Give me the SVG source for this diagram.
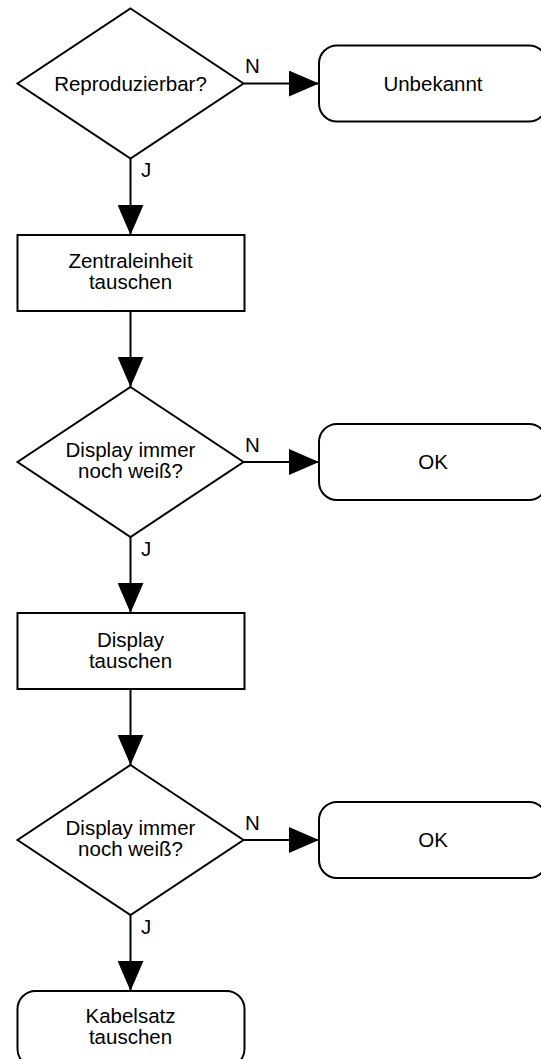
<svg xmlns="http://www.w3.org/2000/svg" width="541" height="1059" viewBox="0 0 541 1059">
<style>
.shape{fill:#fff;stroke:#000;stroke-width:2}
.line{fill:none;stroke:#000;stroke-width:2}
text{font-family:"Liberation Sans",Arial,Helvetica,sans-serif;font-size:20.5px;fill:#000}
.c{text-anchor:middle}
</style>
<defs>
<marker id="ah" markerUnits="userSpaceOnUse" markerWidth="30" markerHeight="26" viewBox="0 0 29 25" refX="29" refY="12.5" orient="auto">
<path d="M0,0 L29,12.5 L0,25 Z" fill="#000"/>
</marker>
</defs>
<rect width="541" height="1059" fill="#fff"/>
<g id="connectors">
<line class="line" x1="243.5" y1="83.5" x2="319" y2="83.5" marker-end="url(#ah)"/>
<line class="line" x1="130.5" y1="158.5" x2="130.5" y2="235" marker-end="url(#ah)"/>
<line class="line" x1="130.5" y1="311" x2="130.5" y2="387" marker-end="url(#ah)"/>
<line class="line" x1="243.5" y1="462" x2="319" y2="462" marker-end="url(#ah)"/>
<line class="line" x1="130.5" y1="537" x2="130.5" y2="613" marker-end="url(#ah)"/>
<line class="line" x1="130.5" y1="689" x2="130.5" y2="765" marker-end="url(#ah)"/>
<line class="line" x1="243.5" y1="840" x2="319" y2="840" marker-end="url(#ah)"/>
<line class="line" x1="130.5" y1="915" x2="130.5" y2="991" marker-end="url(#ah)"/>
<text x="245" y="73">N</text>
<text x="141" y="177">J</text>
<text x="245" y="452">N</text>
<text x="141" y="556">J</text>
<text x="245" y="830">N</text>
<text x="141" y="934">J</text>
</g>
<g id="d1">
<polygon class="shape" points="130.5,8.5 243.5,83.5 130.5,158.5 17.5,83.5"/>
<text class="c" x="130.5" y="90.5">Reproduzierbar?</text>
</g>
<g id="unbekannt">
<rect class="shape" x="319" y="45.5" width="228" height="76" rx="18"/>
<text class="c" x="433" y="90.5">Unbekannt</text>
</g>
<g id="r1">
<rect class="shape" x="17.5" y="235" width="227" height="76"/>
<text class="c" x="130.5" y="268">Zentraleinheit</text>
<text class="c" x="130.5" y="289">tauschen</text>
</g>
<g id="d2">
<polygon class="shape" points="130.5,387 243.5,462 130.5,537 17.5,462"/>
<text class="c" x="130.5" y="456.5">Display immer</text>
<text class="c" x="130.5" y="477.5">noch weiß?</text>
</g>
<g id="ok1">
<rect class="shape" x="319" y="424" width="228" height="76" rx="18"/>
<text class="c" x="433" y="469">OK</text>
</g>
<g id="r2">
<rect class="shape" x="17.5" y="613" width="227" height="76"/>
<text class="c" x="130.5" y="646.5">Display</text>
<text class="c" x="130.5" y="667.5">tauschen</text>
</g>
<g id="d3">
<polygon class="shape" points="130.5,765 243.5,840 130.5,915 17.5,840"/>
<text class="c" x="130.5" y="834.5">Display immer</text>
<text class="c" x="130.5" y="855.5">noch weiß?</text>
</g>
<g id="ok2">
<rect class="shape" x="319" y="802" width="228" height="76" rx="18"/>
<text class="c" x="433" y="847">OK</text>
</g>
<g id="kabelsatz">
<rect class="shape" x="17.5" y="991" width="227" height="76" rx="18"/>
<text class="c" x="130.5" y="1023">Kabelsatz</text>
<text class="c" x="130.5" y="1044">tauschen</text>
</g>
</svg>
